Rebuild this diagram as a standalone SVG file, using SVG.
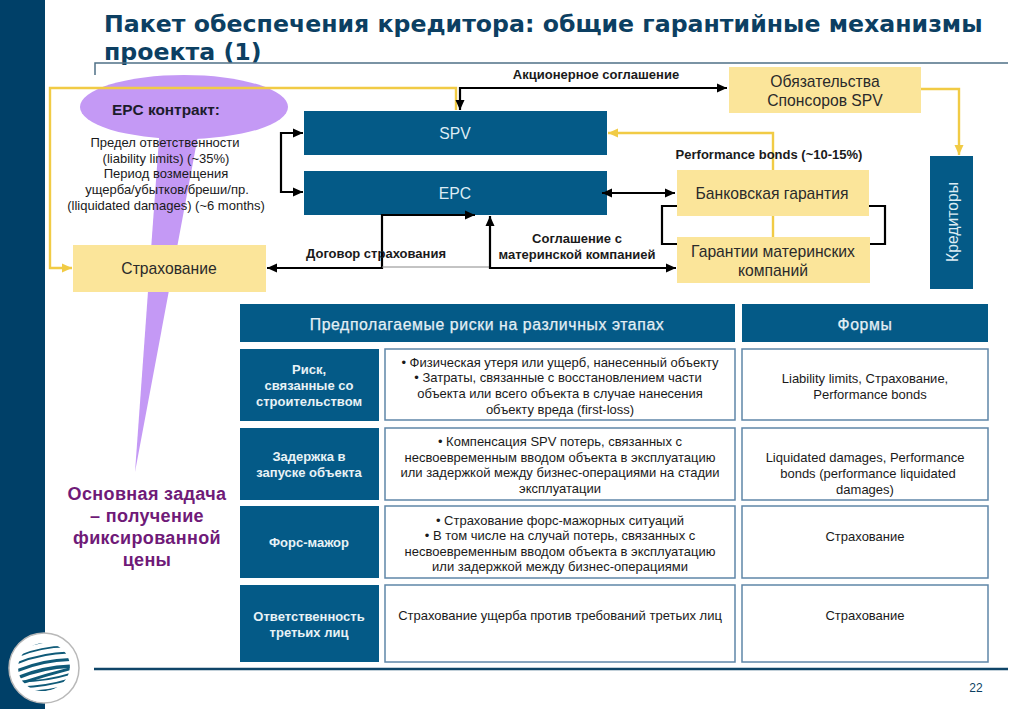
<svg xmlns="http://www.w3.org/2000/svg" width="1024" height="709" viewBox="0 0 1024 709">
<style>
text{font-family:"Liberation Sans",Arial,sans-serif;text-anchor:middle;fill:#1a1a1a}
.t{font-size:13px}.b{font-weight:bold;font-size:13px}
.w{fill:#dcecf4;font-size:15.7px}.y{font-size:15.7px;fill:#2a2a2a}
.navy{fill:#045a87}.yb{fill:#fbe59a}
.hd{fill:#e4eff5;font-size:15.8px;letter-spacing:.6px;stroke:#e4eff5;stroke-width:.25}
.rl{fill:#e8f2f6;font-size:13px;font-weight:bold}
.cell{fill:#fff;stroke:#5f86a8;stroke-width:1.5}
.k{fill:none;stroke:#000;stroke-width:2.2}.g{fill:none;stroke:#f1cb45;stroke-width:2.4}
.task{font-size:18px;font-weight:bold;fill:#6f1a78;letter-spacing:.35px}
.ttl{text-anchor:start;font-family:"DejaVu Sans",sans-serif;font-size:23.65px;font-weight:bold;fill:#0c3f62}
</style>
<defs>
<marker id="ka" markerWidth="12" markerHeight="10" refX="10" refY="5" orient="auto-start-reverse" markerUnits="userSpaceOnUse"><path d="M0 .5L10 5L0 9.500z" fill="#000"/></marker>
<marker id="ga" markerWidth="12" markerHeight="10" refX="10" refY="5" orient="auto-start-reverse" markerUnits="userSpaceOnUse"><path d="M0 .5L10 5L0 9.500z" fill="#f1cb45"/></marker>
<clipPath id="globe"><ellipse cx="0" cy="0" rx="26" ry="24"/></clipPath>
</defs>
<rect width="1024" height="709" fill="#fff"/>
<rect width="45" height="709" fill="#004068"/>
<g id="title"><text class="ttl" x="104" y="32">Пакет обеспечения кредитора: общие гарантийные механизмы</text>
<text class="ttl" x="104" y="60">проекта (1)</text>
<path d="M95 75V63H1008" fill="none" stroke="#4f7086" stroke-width="1.5"/></g>
<g id="logo"><circle cx="44" cy="668" r="35" fill="#fff" stroke="#b9b9b9" stroke-width="1.5"/>
<g transform="translate(44 667) rotate(-12)" clip-path="url(#globe)" fill="none" stroke="#0f5a78">
<path d="M-27 -22Q0 -27 27 -22" stroke-width="1.500"/><path d="M-27 -15Q0 -21 27 -15" stroke-width="1.800"/><path d="M-27 -9Q0 -14 27 -9" stroke-width="2"/><path d="M-27 -2Q0 -7 27 -2" stroke-width="3"/><path d="M-27 5Q0 0 27 5" stroke-width="3.500"/><path d="M-27 11Q0 8 27 7" stroke-width="3"/><path d="M-27 9Q0 15 27 12" stroke-width="2"/><path d="M-27 15Q0 20 27 17" stroke-width="1.800"/><path d="M-27 19Q0 26 27 22" stroke-width="1.500"/></g></g>
<path d="M94 669H1008" stroke="#0f4568" stroke-width="2.5"/>
<text x="976" y="692" style="font-size:12px;fill:#0c3f62">22</text>
<g id="epc-contract"><path d="M160 125L135 472L200 125z" fill="#c499f5"/><ellipse cx="184" cy="107" rx="104" ry="32" fill="#c499f5"/>
<text x="166" y="115" style="font-size:15.4px;font-weight:bold;fill:#1c1c2c">EPC контракт:</text>
<text class="t" x="165" y="147">Предел ответственности</text><text class="t" x="166" y="163">(liability limits) (~35%)</text><text class="t" x="166" y="178">Период возмещения</text><text class="t" x="167" y="194">ущерба/убытков/бреши/пр.</text><text class="t" x="166" y="210">(lliquidated damages) (~6 months)</text></g>
<g id="spv"><rect class="navy" x="304" y="111" width="303" height="44"/><text class="w" x="455" y="139">SPV</text></g>
<g id="epc"><rect class="navy" x="304" y="171" width="303" height="44"/><text class="w" x="455" y="199">EPC</text></g>
<g id="sponsors"><rect class="yb" x="729" y="67" width="192" height="46"/><text class="y" x="825" y="87">Обязательства</text><text class="y" x="825" y="106">Спонсоров SPV</text></g>
<g id="bank"><rect class="yb" x="677" y="170" width="192" height="46"/><text class="y" x="772" y="199">Банковская гарантия</text></g>
<g id="parent"><rect class="yb" x="677" y="237" width="193" height="46"/><text class="y" x="773" y="257">Гарантии материнских</text><text class="y" x="773" y="276">компаний</text></g>
<g id="insurance"><rect class="yb" x="73" y="245" width="193" height="47"/><text class="y" x="169" y="274">Страхование</text></g>
<g id="creditors"><rect class="navy" x="930" y="156" width="43" height="133"/><text class="w" transform="translate(958 222) rotate(-90)">Кредиторы</text></g>
<g id="connectors">
<path class="g" d="M773 170V133H608" marker-end="url(#ga)"/><path class="g" d="M773 216V237"/>
<path class="g" d="M921 89H959V155" marker-end="url(#ga)"/>
<path class="g" d="M456 110V88H50V268H72" marker-end="url(#ga)"/>
<path class="k" d="M727 88H460V110" marker-start="url(#ka)" marker-end="url(#ka)"/>
<path class="k" d="M303 133H281V192H303" marker-start="url(#ka)" marker-end="url(#ka)"/>
<path class="k" d="M602 193H675" marker-start="url(#ka)" marker-end="url(#ka)"/>
<path class="k" d="M677 206H662V244H677M869 206H885V244H870"/>
<path class="k" d="M267 268H382V215H475" marker-start="url(#ka)" marker-end="url(#ka)"/>
<path d="M382 267H490" stroke="#888" stroke-width="1"/>
<path class="k" d="M490 216V268H676" marker-start="url(#ka)" marker-end="url(#ka)"/>
</g>
<g id="labels"><text class="b" x="596" y="79">Акционерное соглашение</text><text class="b" x="769" y="159">Performance bonds (~10-15%)</text><text class="b" x="376" y="258">Договор страхования</text><text class="b" x="577" y="243">Соглашение с</text><text class="b" x="577" y="259">материнской компанией</text></g>
<g id="task"><text class="task" x="147" y="500">Основная задача</text><text class="task" x="147" y="522">– получение</text><text class="task" x="147" y="544">фиксированной</text><text class="task" x="147" y="566">цены</text></g>
<g id="head-risks"><rect class="navy" x="240" y="304" width="495" height="38"/><text class="hd" x="487" y="330">Предполагаемые риски на различных этапах</text></g>
<g id="head-forms"><rect class="navy" x="742" y="304" width="246" height="38"/><text class="hd" x="865" y="330">Формы</text></g>
<g id="row1"><rect class="navy" x="240" y="349" width="139" height="72"/><text class="rl" x="309" y="374">Риск,</text><text class="rl" x="309" y="390">связанные со</text><text class="rl" x="309" y="406">строительством</text>
<rect class="cell" x="385" y="349" width="350" height="71"/><text class="t" x="560" y="367">• Физическая утеря или ущерб, нанесенный объекту</text><text class="t" x="558" y="382">• Затраты, связанные с восстановлением части</text><text class="t" x="560" y="398">объекта или всего объекта в случае нанесения</text><text class="t" x="560" y="414">объекту вреда (first-loss)</text>
<rect class="cell" x="742" y="349" width="246" height="71"/><text class="t" x="865" y="383">Liability limits, Страхование,</text><text class="t" x="870" y="399">Performance bonds</text></g>
<g id="row2"><rect class="navy" x="240" y="428" width="139" height="72"/><text class="rl" x="309" y="461">Задержка в</text><text class="rl" x="309" y="477">запуске объекта</text>
<rect class="cell" x="385" y="428" width="350" height="72"/><text class="t" x="560" y="446">• Компенсация SPV потерь, связанных с</text><text class="t" x="560" y="462">несвоевременным вводом объекта в эксплуатацию</text><text class="t" x="560" y="477">или задержкой между бизнес-операциями на стадии</text><text class="t" x="560" y="493">эксплуатации</text>
<rect class="cell" x="742" y="428" width="246" height="72"/><text class="t" x="865" y="462">Liquidated damages, Performance</text><text class="t" x="868" y="478">bonds (performance liquidated</text><text class="t" x="865" y="494">damages)</text></g>
<g id="row3"><rect class="navy" x="240" y="506" width="139" height="72"/><text class="rl" x="309" y="547">Форс-мажор</text>
<rect class="cell" x="385" y="506" width="350" height="72"/><text class="t" x="560" y="525">• Страхование форс-мажорных ситуаций</text><text class="t" x="560" y="540">• В том числе на случай потерь, связанных с</text><text class="t" x="560" y="556">несвоевременным вводом объекта в эксплуатацию</text><text class="t" x="560" y="571">или задержкой между бизнес-операциями</text>
<rect class="cell" x="742" y="506" width="246" height="72"/><text class="t" x="865" y="541">Страхование</text></g>
<g id="row4"><rect class="navy" x="240" y="585" width="139" height="77"/><text class="rl" x="309" y="621">Ответственность</text><text class="rl" x="309" y="637">третьих лиц</text>
<rect class="cell" x="385" y="585" width="350" height="77"/><text class="t" x="560" y="620">Страхование ущерба против требований третьих лиц</text>
<rect class="cell" x="742" y="585" width="246" height="77"/><text class="t" x="865" y="620">Страхование</text></g>
</svg>
